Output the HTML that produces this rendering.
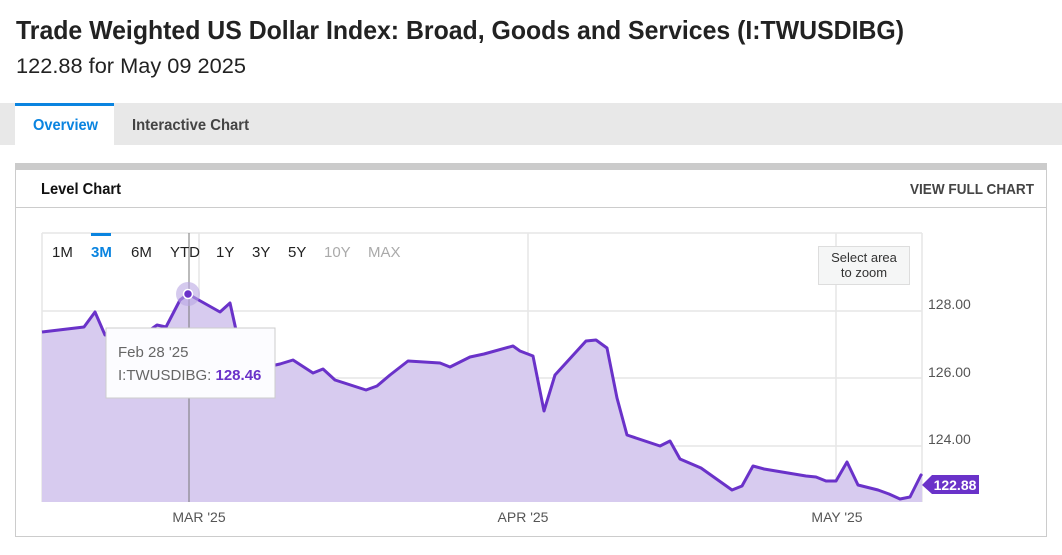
<!DOCTYPE html>
<html><head><style>
body{margin:0;width:1062px;height:550px;background:#fff;overflow:hidden;font-family:"Liberation Sans",sans-serif}
svg text{font-family:"Liberation Sans",sans-serif}
</style></head><body>
<svg width="1062" height="550" xmlns="http://www.w3.org/2000/svg">
<text x="16" y="39" font-size="26" font-weight="bold" fill="#222" textLength="888" lengthAdjust="spacingAndGlyphs">Trade Weighted US Dollar Index: Broad, Goods and Services (I:TWUSDIBG)</text>
<text x="16" y="73" font-size="21" fill="#222" textLength="230" lengthAdjust="spacingAndGlyphs">122.88 for May 09 2025</text>
<rect x="0" y="103" width="1062" height="42" fill="#e8e8e8"/>
<rect x="15" y="103" width="99" height="42" fill="#fff"/>
<rect x="15" y="103" width="99" height="3" fill="#0a84e0"/>
<text x="33" y="130" font-size="16" font-weight="bold" fill="#0a84e0" textLength="65" lengthAdjust="spacingAndGlyphs">Overview</text>
<text x="132" y="130" font-size="16" font-weight="bold" fill="#444" textLength="117" lengthAdjust="spacingAndGlyphs">Interactive Chart</text>
<rect x="15.5" y="163.5" width="1031" height="373" fill="#fff" stroke="#ccc"/>
<rect x="15" y="163" width="1032" height="7" fill="#cbcbcb"/>
<line x1="15" y1="207.5" x2="1047" y2="207.5" stroke="#ccc"/>
<text x="41" y="194" font-size="16" font-weight="bold" fill="#111" textLength="80" lengthAdjust="spacingAndGlyphs">Level Chart</text>
<text x="1034" y="194" font-size="15" font-weight="bold" fill="#444" text-anchor="end" textLength="124" lengthAdjust="spacingAndGlyphs">VIEW FULL CHART</text>
<g stroke="#e6e6e6" stroke-width="1.5">
<line x1="42" y1="233" x2="922" y2="233"/>
<line x1="42" y1="311" x2="922" y2="311"/>
<line x1="42" y1="378" x2="922" y2="378"/>
<line x1="42" y1="446" x2="922" y2="446"/>
<line x1="199" y1="233" x2="199" y2="502"/>
<line x1="528" y1="233" x2="528" y2="502"/>
<line x1="836" y1="233" x2="836" y2="502"/>
<line x1="922" y1="233" x2="922" y2="502"/>
<line x1="42" y1="233" x2="42" y2="502"/>
</g>
<path d="M42,332 L84,327 L95,312 L105,335 L150,330 L157,325 L166,327 L180,300 L188,294 L220,312 L230,303 L236,330 L242,350 L250,365 L262,368 L280,364 L293,360 L313,373 L323,369 L335,380 L366,390 L377,386 L390,375 L408,361 L440,363 L450,367 L470,357 L484,354 L513,346 L520,351 L533,356 L544,411 L555,375 L586,341 L596,340 L607,348 L617,398 L627,435 L660,446 L670,441 L680,459 L701,468 L732,490 L742,486 L753,466 L764,469 L806,476 L816,477 L826,481 L836,481 L847,462 L858,485 L878,490 L889,494 L900,499 L910,497 L921,475 L922,476 L922,502 L42,502 Z" fill="#d7cbef"/>
<path d="M42,332 L84,327 L95,312 L105,335 L150,330 L157,325 L166,327 L180,300 L188,294 L220,312 L230,303 L236,330 L242,350 L250,365 L262,368 L280,364 L293,360 L313,373 L323,369 L335,380 L366,390 L377,386 L390,375 L408,361 L440,363 L450,367 L470,357 L484,354 L513,346 L520,351 L533,356 L544,411 L555,375 L586,341 L596,340 L607,348 L617,398 L627,435 L660,446 L670,441 L680,459 L701,468 L732,490 L742,486 L753,466 L764,469 L806,476 L816,477 L826,481 L836,481 L847,462 L858,485 L878,490 L889,494 L900,499 L910,497 L921,475 L922,476" fill="none" stroke="#6a32c9" stroke-width="3" stroke-linejoin="round"/>
<line x1="189" y1="233" x2="189" y2="502" stroke="#777" stroke-width="1"/>
<circle cx="188" cy="294" r="12" fill="#b9a7e3" opacity="0.6"/>
<circle cx="188" cy="294" r="4.5" fill="#6a32c9" stroke="#fff" stroke-width="1.5"/>
<rect x="106" y="328" width="169" height="70" fill="#fcfcff" stroke="#ccc"/>
<text x="118" y="357" font-size="15" fill="#666">Feb 28 '25</text>
<text x="118" y="380" font-size="15" fill="#666">I:TWUSDIBG: <tspan font-weight="bold" fill="#6a32c9">128.46</tspan></text>
<rect x="91" y="233" width="20" height="3" fill="#0a84e0"/>
<g font-size="15" fill="#222">
<text x="52" y="257">1M</text>
<text x="91" y="257" fill="#0a84e0" font-weight="bold">3M</text>
<text x="131" y="257">6M</text>
<text x="170" y="257">YTD</text>
<text x="216" y="257">1Y</text>
<text x="252" y="257">3Y</text>
<text x="288" y="257">5Y</text>
<text x="324" y="257" fill="#aaa">10Y</text>
<text x="368" y="257" fill="#aaa">MAX</text>
</g>
<rect x="818.5" y="246.5" width="91" height="38" fill="#f5f6f6" stroke="#ddd"/>
<text x="864" y="262" font-size="13" fill="#333" text-anchor="middle">Select area</text>
<text x="864" y="277" font-size="13" fill="#333" text-anchor="middle">to zoom</text>
<g font-size="14" fill="#555">
<text x="928" y="309">128.00</text>
<text x="928" y="377">126.00</text>
<text x="928" y="444">124.00</text>
<text x="199" y="522" text-anchor="middle">MAR '25</text>
<text x="523" y="522" text-anchor="middle">APR '25</text>
<text x="837" y="522" text-anchor="middle">MAY '25</text>
</g>
<path d="M922,485 L932,475 L979,475 L979,494 L932,494 Z" fill="#6a32c9"/>
<text x="955" y="490" font-size="14" font-weight="bold" fill="#fff" text-anchor="middle">122.88</text>
</svg>
</body></html>
